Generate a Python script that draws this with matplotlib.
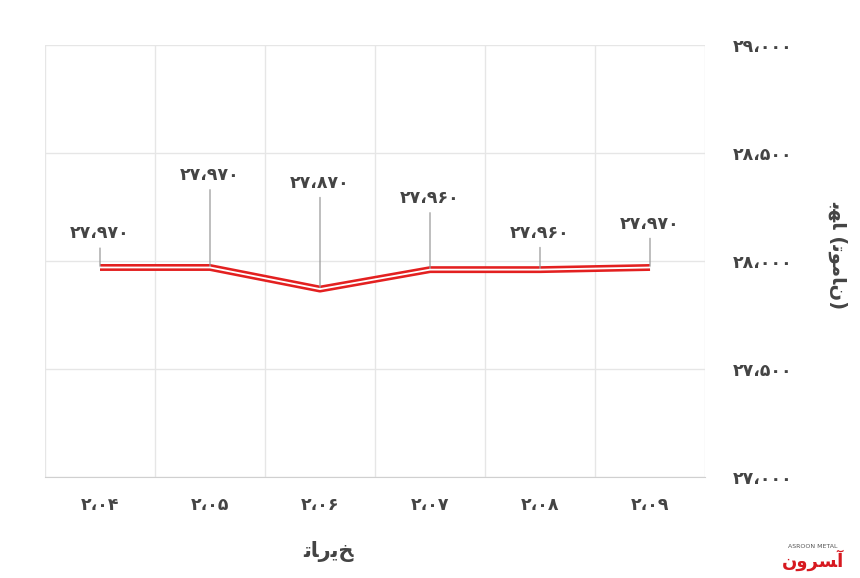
import matplotlib.pyplot as plt
import numpy as np

dates = ["۲،۰۴", "۲،۰۵", "۲،۰۶", "۲،۰۷", "۲،۰۸", "۲،۰۹"]
prices = [27970, 27970, 27870, 27960, 27960, 27970]
price_labels = ["۲۷،۹۷۰", "۲۷،۹۷۰", "۲۷،۸۷۰", "۲۷،۹۶۰", "۲۷،۹۶۰", "۲۷،۹۷۰"]
yticks = [27000, 27500, 28000, 28500, 29000]
ytick_labels = ["۲۷،۰۰۰", "۲۷،۵۰۰", "۲۸،۰۰۰", "۲۸،۵۰۰", "۲۹،۰۰۰"]
# label offsets above point (points), style only
offsets = [18, 60, 70, 45, 20, 25]

plt.rcParams['font.family'] = ['DejaVu Sans']
INK = "#444444"
fig = plt.figure(figsize=(8.6, 5.78), dpi=100)
ax = fig.add_axes([45/860, 101/578, 660/860, 432/578])
x = np.arange(len(dates))
ax.plot(x, prices, color="#e32020", lw=5, solid_capstyle="butt", zorder=3)
ax.plot(x, prices, color="white", lw=1.3, zorder=4)
for xi, yi, lab, off in zip(x, prices, price_labels, offsets):
    ax.annotate(lab, (xi, yi), xytext=(0, off), textcoords="offset points",
                ha="center", va="bottom", fontsize=12.5, fontweight="bold", color=INK,
                arrowprops=dict(arrowstyle="-", color="#999999", lw=0.9,
                                shrinkA=2, shrinkB=0))
ax.set_xlim(-0.5, len(dates) - 0.5)
ax.set_ylim(27000, 29000)
ax.set_xticks(x)
ax.set_xticklabels(dates, fontsize=12.5, fontweight="bold", color=INK)
ax.set_xticks(np.arange(-0.5, len(dates)), minor=True)
ax.set_yticks(yticks)
ax.set_yticklabels(ytick_labels, fontsize=12.5, fontweight="bold", color=INK)
ax.yaxis.tick_right()
ax.tick_params(axis="y", length=0, pad=20)
ax.tick_params(axis="x", which="both", length=0, pad=14)
ax.grid(axis="x", which="minor", color="#e6e6e6", lw=1)
ax.grid(axis="y", which="major", color="#e6e6e6", lw=1)
for s in ax.spines.values():
    s.set_visible(False)
ax.spines["bottom"].set_visible(True)
ax.spines["bottom"].set_color("#d0d0d0")

fig.text(328/860, 1 - 552/578, "\uFE97\uFE8E\uFEAD\uFEF3\uFEA6", ha="center", va="center",
         fontsize=15, fontweight="bold", color=INK)
fig.text(838/860, 1 - 255/578, "\uFE91\uFEEC\uFE8E (\uFE97\uFEEE\uFEE3\uFE8E\uFEE5)",
         rotation=270, ha="center", va="center", fontsize=14, fontweight="bold", color=INK)
fig.text(813/860, 1 - 547/578, "ASROON METAL", ha="center", va="center",
         fontsize=4.5, color="#555555")
fig.text(813/860, 1 - 560/578, "\uFEE5\uFEED\uFEAE\uFEB4\uFE81", ha="center", va="center",
         fontsize=13, fontweight="bold", color="#d71920")
fig.savefig("out.png")
